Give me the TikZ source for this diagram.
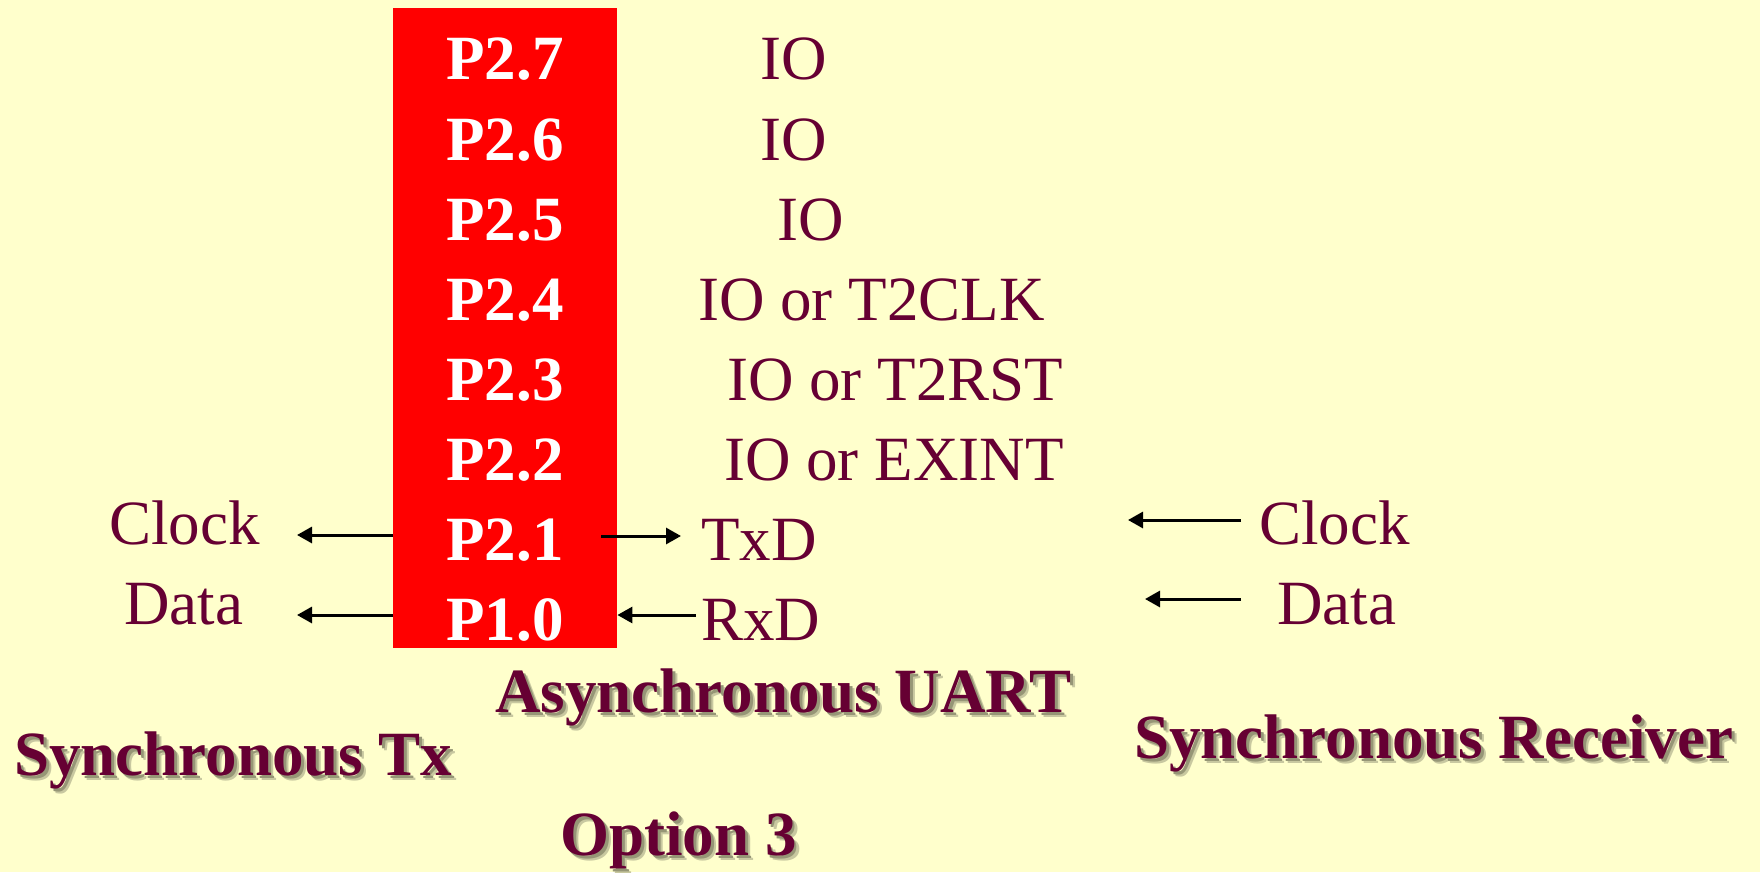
\documentclass[tikz,border=0pt]{standalone}
\usepackage{fontspec}
\setmainfont{Liberation Serif}
\usetikzlibrary{arrows.meta}
\definecolor{bg}{RGB}{255,255,204}
\definecolor{txt}{RGB}{102,0,51}
\definecolor{pinred}{RGB}{255,0,0}
\definecolor{shlight}{RGB}{200,200,160}
\definecolor{shdark}{RGB}{150,150,118}
\newcommand{\mytitleshadow}[1]{\rlap{\hspace{5pt}\raisebox{-5pt}{\color{shlight}#1}}\rlap{\hspace{3pt}\raisebox{-3pt}{\color{shdark}#1}}#1}
\begin{document}
\begin{tikzpicture}[x=1pt,y=-1pt,
  lbl/.style={font=\fontsize{63}{63}\selectfont, text=txt, inner sep=0pt, anchor=base west},
  pin/.style={font=\fontsize{63}{63}\selectfont\bfseries, text=white, inner sep=0pt, anchor=base},
  ttl/.style={font=\fontsize{63}{63}\selectfont\bfseries, text=txt, inner sep=0pt, anchor=base west},
  arr/.style={-{Triangle[length=15pt,width=16pt]}, line width=3pt, draw=black}]
\fill[bg] (0,0) rectangle (1760,872);
\useasboundingbox (0,0) rectangle (1760,872);
% chip
\node[fill=pinred, minimum width=224pt, minimum height=640pt, anchor=north west, inner sep=0pt] (chip) at (393,8) {};
\node[pin] (p27) at (505,80) {P2.7};
\node[pin] (p26) at (505,160) {P2.6};
\node[pin] (p25) at (505,240) {P2.5};
\node[pin] (p24) at (505,320) {P2.4};
\node[pin] (p23) at (505,400) {P2.3};
\node[pin] (p22) at (505,480) {P2.2};
\node[pin] (p21) at (505,560) {P2.1};
\node[pin] (p10) at (505,640) {P1.0};
% right functions
\node[lbl] (f27) at (760,80) {IO};
\node[lbl] (f26) at (760,160) {IO};
\node[lbl] (f25) at (777,240) {IO};
\node[lbl] (f24) at (698,320) {IO or T2CLK};
\node[lbl] (f23) at (727,400) {IO or T2RST};
\node[lbl] (f22) at (724,480) {IO or EXINT};
\node[lbl] (txd) at (701,560) {TxD};
\node[lbl] (rxd) at (701,640) {RxD};
% left labels
\node[lbl] (lclk) at (109,544) {Clock};
\node[lbl] (ldat) at (124,624) {Data};
% right labels
\node[lbl] (rclk) at (1259,544) {Clock};
\node[lbl] (rdat) at (1277,624) {Data};
% arrow coordinates
\coordinate (lclkS) at (393,535);
\coordinate (lclkE) at (297,535);
\coordinate (ldatS) at (393,615);
\coordinate (ldatE) at (297,615);
\coordinate (txS) at (601,536);
\coordinate (txE) at (681,536);
\coordinate (rxS) at (696,615);
\coordinate (rclkS) at (1241,520);
\coordinate (rclkE) at (1128,520);
\coordinate (rdatS) at (1241,599);
\coordinate (rdatE) at (1145,599);
\draw[arr] (lclkS) -- (lclkE);
\draw[arr] (ldatS) -- (ldatE);
\draw[arr] (txS) -- (txE);
\draw[arr] (rxS) -- (rxS -| chip.east);
\draw[arr] (rclkS) -- (rclkE);
\draw[arr] (rdatS) -- (rdatE);
% titles with shadow
\node[ttl] (async) at (495,712) {\mytitleshadow{Asynchronous UART}};
\node[ttl] (stx) at (14,775) {\mytitleshadow{Synchronous Tx}};
\node[ttl] (srx) at (1134,758) {\mytitleshadow{Synchronous Receiver}};
\node[ttl] (opt) at (560,855) {\mytitleshadow{Option 3}};
\end{tikzpicture}
\end{document}
